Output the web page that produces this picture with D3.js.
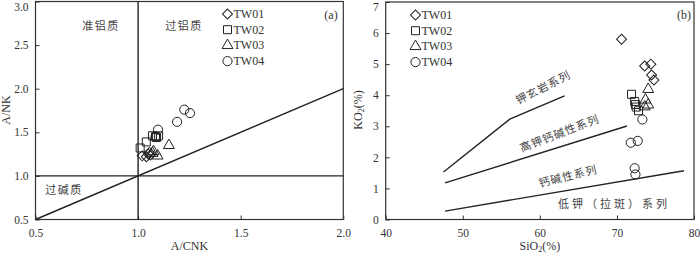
<!DOCTYPE html>
<html lang="zh">
<head>
<meta charset="UTF-8">
<title>A/CNK - A/NK and SiO2 - K2O</title>
<script src="https://d3js.org/d3.v7.min.js"></script>
<style>
  body { margin: 0; background: #fff; }
  svg { display: block; }
  .tick text { font-family: "Liberation Serif", "DejaVu Serif", serif; font-size: 11.5px; fill: #333; }
  .tick line { stroke: #333; }
  .zh { font-family: "Noto Sans CJK SC", sans-serif; font-size: 11px; fill: #444; }
  .lab { font-family: "Liberation Serif", serif; font-size: 12px; fill: #333; }
</style>
</head>
<body>
<svg id="chart" width="700" height="253"></svg>
<script>
// ---- panel (a): A/CNK vs A/NK
const aTW01 = [[1.02,1.23],[1.04,1.22],[1.05,1.25],[1.06,1.24],[1.055,1.27]];
const aTW02 = [[1.01,1.32],[1.04,1.39],[1.07,1.46],[1.085,1.45],[1.10,1.46],[1.09,1.44]];
const aTW03 = [[1.15,1.35],[1.095,1.23],[1.075,1.28],[1.07,1.26]];
const aTW04 = [[1.225,1.76],[1.253,1.72],[1.19,1.62],[1.097,1.53],[1.085,1.45]];
const aTicksX = [0.5, 1.0, 1.5, 2.0];
const aTicksY = [0.5, 1.0, 1.5, 2.0, 2.5, 3.0];

// ---- panel (b): SiO2 vs K2O
const bTW01 = [[70.6,5.8],[73.6,4.94],[74.4,5.0],[74.5,4.65],[74.8,4.49]];
const bTW02 = [[71.9,4.03],[72.3,3.8],[72.4,3.7],[72.5,3.62],[72.8,3.5]];
const bTW03 = [[74.06,4.19],[73.7,3.85],[74.06,3.69],[73.6,3.63]];
const bTW04 = [[73.3,3.22],[71.8,2.47],[72.7,2.53],[72.3,1.65],[72.4,1.45]];
const bTicksX = [40, 50, 60, 70, 80];
const bTicksY = [0, 1, 2, 3, 4, 5, 6, 7];
// series boundary lines
const shoshLine = [[47.5,1.53],[56.1,3.23],[63.2,3.98]];
const highKLine = [[47.7,1.18],[71.3,3.01]];
const calcLine = [[47.7,0.27],[78.7,1.57]];

const seriesNames = ["TW01", "TW02", "TW03", "TW04"];
const symbols = [d3.symbolSquare, d3.symbolSquare, d3.symbolTriangle, d3.symbolCircle];
const symSize = [50, 64, 52, 66];

const svg = d3.select("#chart");
const ink = "#222";

function marker(g, i, x, y) {
  g.append("path")
    .attr("d", d3.symbol().type(symbols[i]).size(symSize[i])())
    .attr("transform", `translate(${x},${y})` + (i === 0 ? " rotate(45)" : ""))
    .attr("fill", "none")
    .attr("stroke", ink)
    .attr("stroke-width", 1);
}

function panel(opt) {
  const x = d3.scaleLinear().domain(opt.xd).range(opt.xr);
  const y = d3.scaleLinear().domain(opt.yd).range(opt.yr);
  const g = svg.append("g");

  g.append("g")
    .attr("transform", `translate(0,${opt.yr[0]})`)
    .call(d3.axisBottom(x).tickValues(opt.tx).tickFormat(opt.fx).tickSizeInner(-4).tickSizeOuter(0).tickPadding(9))
    .call(a => a.select(".domain").remove());
  g.append("g")
    .attr("transform", `translate(${opt.xr[0]},0)`)
    .call(d3.axisLeft(y).tickValues(opt.ty).tickFormat(opt.fy).tickSizeInner(-4).tickSizeOuter(0).tickPadding(7))
    .call(a => a.select(".domain").remove())
    // top label sits a little lower so it is not clipped
    .call(a => a.selectAll(".tick text").filter(d => d === opt.yd[1]).attr("dy", "0.75em"));

  g.append("rect")
    .attr("x", opt.xr[0]).attr("y", opt.yr[1])
    .attr("width", opt.xr[1] - opt.xr[0]).attr("height", opt.yr[0] - opt.yr[1])
    .attr("fill", "none").attr("stroke", "#333").attr("stroke-width", 1.2);

  const line = d3.line().x(d => x(d[0])).y(d => y(d[1]));
  opt.lines.forEach(l => {
    g.append("path").attr("d", line(l)).attr("fill", "none")
      .attr("stroke", ink).attr("stroke-width", 1.4);
  });

  opt.data.forEach((s, i) => s.forEach(d => marker(g, i, x(d[0]), y(d[1]))));

  // legend
  seriesNames.forEach((n, i) => {
    const ly = opt.legY + i * 15.7;
    marker(g, i, opt.legX, ly);
    g.append("text").attr("class", "lab").attr("x", opt.legX + 6).attr("y", ly + 4).text(n);
  });
  g.append("text").attr("class", "lab").attr("x", opt.tagX).attr("y", 19)
    .attr("text-anchor", "middle").text(opt.tag);

  // axis titles
  g.append("text").attr("class", "lab").attr("text-anchor", "middle")
    .attr("x", (opt.xr[0] + opt.xr[1]) / 2).attr("y", 250).html(opt.xTitle);
  g.append("text").attr("class", "lab").attr("text-anchor", "middle")
    .attr("transform", `translate(${opt.yTitleX},${110}) rotate(-90)`).html(opt.yTitle);
  return { x, y, g };
}

const pa = panel({
  xd: [0.5, 2.0], xr: [35.5, 343.3], yd: [0.5, 3.0], yr: [219.5, 1.5],
  tx: aTicksX, ty: aTicksY, fx: d3.format(".1f"), fy: d3.format(".1f"),
  lines: [[[1.0, 0.5], [1.0, 3.0]], [[0.5, 1.0], [2.0, 1.0]], [[0.5, 0.5], [2.0, 2.0]]],
  data: [aTW01, aTW02, aTW03, aTW04],
  legX: 227.5, legY: 14, tagX: 331, tag: "(a)",
  xTitle: "A/CNK", yTitle: "A/NK", yTitleX: 10
});
const zhA = [["准铝质", 101, 30], ["过铝质", 184, 30], ["过碱质", 64, 194]];
zhA.forEach(t => {
  pa.g.append("text").attr("class", "zh").attr("text-anchor", "middle").attr("letter-spacing", 1.5)
    .attr("x", t[1]).attr("y", t[2]).text(t[0]);
});

const pb = panel({
  xd: [40, 80], xr: [385.7, 694], yd: [0, 7], yr: [219.5, 2],
  tx: bTicksX, ty: bTicksY, fx: d3.format("d"), fy: d3.format("d"),
  lines: [shoshLine, highKLine, calcLine],
  data: [bTW01, bTW02, bTW03, bTW04],
  legX: 415.5, legY: 15, tagX: 684, tag: "(b)",
  xTitle: "SiO<tspan font-size='8' dy='2'>2</tspan><tspan dy='-2'>(%)</tspan>",
  yTitle: "KO<tspan font-size='8' dy='2'>2</tspan><tspan dy='-2'>(%)</tspan>", yTitleX: 362
});
const zhB = [
  ["钾玄岩系列", 545, 91, -27],
  ["高钾钙碱性系列", 561, 137, -21],
  ["钙碱性系列", 569, 180, -14]
];
zhB.forEach(t => {
  pb.g.append("text").attr("class", "zh").attr("text-anchor", "middle").attr("letter-spacing", 1)
    .attr("transform", `translate(${t[1]},${t[2]}) rotate(${t[3]})`).text(t[0]);
});
pb.g.append("text").attr("class", "zh").attr("text-anchor", "middle").attr("letter-spacing", 3)
  .attr("x", 614).attr("y", 208).text("低钾（拉斑）系列");
</script>
</body>
</html>
